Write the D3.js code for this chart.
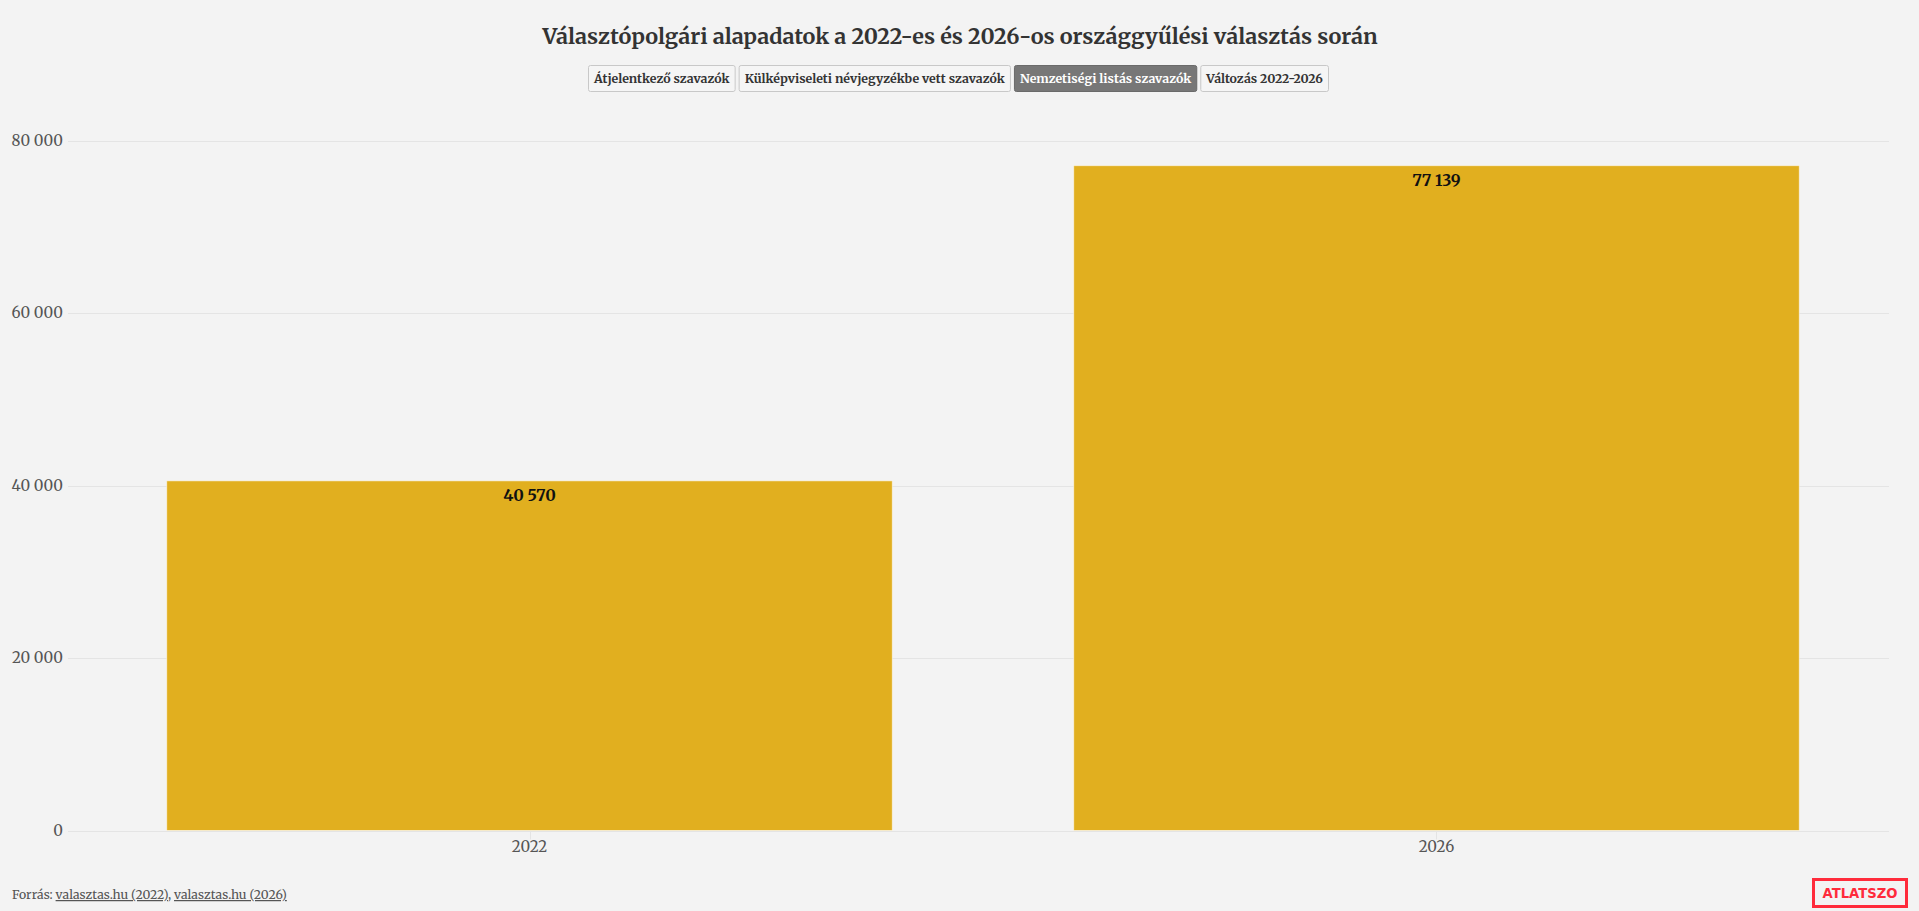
<!DOCTYPE html>
<html>
<head>
<meta charset="utf-8">
<script src="https://cdn.jsdelivr.net/npm/d3@7"></script>
<style>
  html, body { margin: 0; padding: 0; background: #f3f3f3; }
  svg { display: block; }
</style>
</head>
<body>
<svg id="chart" width="1919" height="911"></svg>
<script>
const titleText = "Választópolgári alapadatok a 2022-es és 2026-os országgyűlési választás során";
const categories = ["2022", "2026"];
const values = [40570, 77139];
const yTicks = [0, 20000, 40000, 60000, 80000];
const buttonLabels = ["Átjelentkező szavazók", "Külképviseleti névjegyzékbe vett szavazók", "Nemzetiségi listás szavazók", "Változás 2022-2026"];
const activeButton = 2;
const sourceLabel = "Forrás: ";
const sourceLinks = ["valasztas.hu (2022)", "valasztas.hu (2026)"];
const logoText = "ATLATSZO";

const W = 1919, H = 911;
const serif = "Merriweather, 'DejaVu Serif', serif";
const svg = d3.select("#chart");
svg.append("rect").attr("width", W).attr("height", H).attr("fill", "#f3f3f3");

const fmt = d3.formatLocale({decimal: ",", thousands: " ", grouping: [3], currency: ["", ""]}).format(",d");

// helper: fit font-size so text width matches target
function fitText(sel, baseSize, targetW) {
  sel.attr("font-size", baseSize);
  const w = sel.node().getComputedTextLength();
  const s = baseSize * targetW / w;
  sel.attr("font-size", s);
  return s;
}

// Title
const title = svg.append("text")
  .attr("x", 960).attr("y", 44)
  .attr("text-anchor", "middle")
  .attr("font-family", serif).attr("font-weight", "bold")
  .attr("fill", "#333")
  .text(titleText);
fitText(title, 22, 836);

// Buttons
const btnG = svg.append("g");
const tmp = btnG.append("text").attr("font-family", serif).attr("font-weight", "bold").attr("font-size", 12);
const rawW = buttonLabels.map(t => { tmp.text(t); return tmp.node().getComputedTextLength(); });
tmp.remove();
const pad = 6, gap = 3, targetTotal = 741;
const textTotal = targetTotal - buttonLabels.length * 2 * pad - (buttonLabels.length - 1) * gap;
const k = textTotal / d3.sum(rawW);
const btnFont = 12 * k;
const btnW = rawW.map(w => w * k + 2 * pad);
const totalW = d3.sum(btnW) + (buttonLabels.length - 1) * gap;
let bx = 958.5 - totalW / 2;
buttonLabels.forEach((t, i) => {
  const g = btnG.append("g").attr("transform", `translate(${bx},65)`);
  g.append("rect").attr("x", 0.5).attr("y", 0.5).attr("width", btnW[i] - 1).attr("height", 26)
    .attr("rx", 2)
    .attr("fill", i === activeButton ? "#777777" : "#f5f5f5")
    .attr("stroke", i === activeButton ? "#6a6a6a" : "#c8c8c8");
  g.append("text").attr("x", btnW[i] / 2).attr("y", 17.5)
    .attr("text-anchor", "middle")
    .attr("font-family", serif).attr("font-weight", "bold").attr("font-size", btnFont)
    .attr("fill", i === activeButton ? "#ffffff" : "#333")
    .text(t);
  bx += btnW[i] + gap;
});

// Scales
const gridX0 = 68, gridX1 = 1889;
const x = d3.scaleBand().domain(categories).range([76, 1890]).paddingInner(0.2).paddingOuter(0.1);
const y = d3.scaleLinear().domain([0, 80000]).range([830.5, 141]);

// Gridlines
svg.append("g").selectAll("line").data(yTicks).join("line")
  .attr("x1", gridX0).attr("x2", gridX1)
  .attr("y1", d => Math.round(y(d)) + 0.5).attr("y2", d => Math.round(y(d)) + 0.5)
  .attr("stroke", "#e4e4e4").attr("stroke-width", 1);

// Y labels
svg.append("g").selectAll("text").data(yTicks).join("text")
  .attr("x", 63).attr("y", d => y(d) + 5)
  .attr("text-anchor", "end")
  .attr("font-family", serif).attr("font-size", 15)
  .attr("fill", "#555")
  .text(d => fmt(d));

// X ticks
svg.append("g").selectAll("line").data(categories).join("line")
  .attr("x1", d => Math.round(x(d) + x.bandwidth() / 2) + 0.5)
  .attr("x2", d => Math.round(x(d) + x.bandwidth() / 2) + 0.5)
  .attr("y1", y(0)).attr("y2", y(0) + 9)
  .attr("stroke", "#e4e4e4");

// X labels
svg.append("g").selectAll("text").data(categories).join("text")
  .attr("x", d => x(d) + x.bandwidth() / 2).attr("y", 852)
  .attr("text-anchor", "middle")
  .attr("font-family", serif).attr("font-size", 15)
  .attr("fill", "#555")
  .text(d => d);

// Bars
const data = categories.map((c, i) => ({c, v: values[i]}));
svg.append("g").selectAll("rect").data(data).join("rect")
  .attr("x", d => x(d.c)).attr("width", x.bandwidth())
  .attr("y", d => y(d.v)).attr("height", d => y(0) - y(d.v))
  .attr("fill", "#e1af1f")
  .attr("stroke", "rgba(255,255,255,0.55)").attr("stroke-width", 1);

// Value labels
svg.append("g").selectAll("text").data(data).join("text")
  .attr("x", d => x(d.c) + x.bandwidth() / 2).attr("y", d => y(d.v) + 20)
  .attr("text-anchor", "middle")
  .attr("font-family", serif).attr("font-weight", "bold").attr("font-size", 16)
  .attr("fill", "#111")
  .text(d => fmt(d.v));

// Footer
const foot = svg.append("text").attr("x", 12).attr("y", 899)
  .attr("font-family", serif).attr("font-size", 12).attr("fill", "#555");
foot.append("tspan").text(sourceLabel);
sourceLinks.forEach((l, i) => {
  foot.append("tspan").attr("text-decoration", "underline").attr("fill", "#555").text(l);
  if (i < sourceLinks.length - 1) foot.append("tspan").text(", ");
});
fitText(foot, 12, 275);

// Logo
svg.append("rect").attr("x", 1813.5).attr("y", 879.5).attr("width", 93).attr("height", 27)
  .attr("fill", "none").attr("stroke", "#ff2b3b").attr("stroke-width", 3);
const logo = svg.append("text").attr("x", 1860).attr("y", 898)
  .attr("text-anchor", "middle")
  .attr("font-family", "'DejaVu Sans', 'Liberation Sans', sans-serif").attr("font-weight", "bold")
  .attr("fill", "#ff2b3b").text(logoText);
fitText(logo, 13, 75);
</script>
</body>
</html>
